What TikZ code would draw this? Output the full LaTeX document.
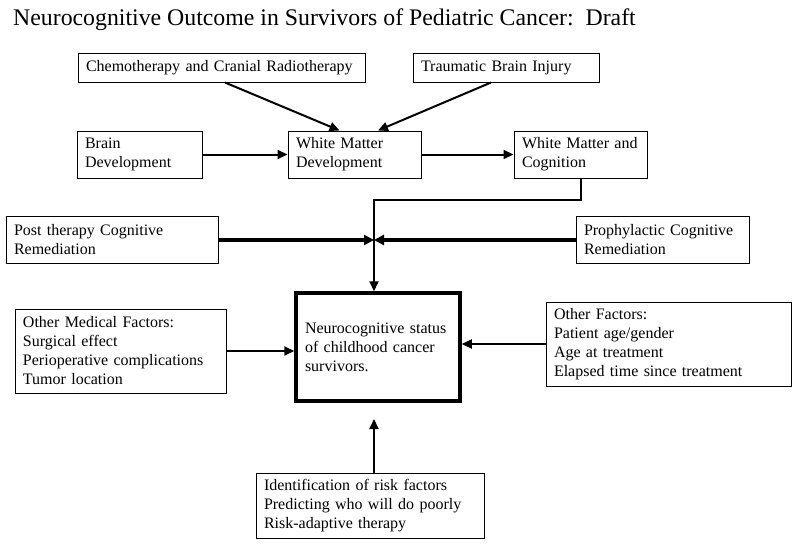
\documentclass[tikz,border=0pt]{standalone}
\usepackage{fontspec}
\setmainfont{Liberation Serif}
\usetikzlibrary{arrows.meta,calc}
\begin{document}
\begin{tikzpicture}[x=1pt,y=-1pt,
  box/.style={draw, line width=1pt, align=left, inner xsep=8pt, inner ysep=0pt,
    font=\fontsize{16}{19}\selectfont},
  arr/.style={line width=2pt, -{Triangle[length=10pt,width=9pt]}},
  thickarr/.style={line width=3.5pt, -{Triangle[length=10pt,width=10pt]}},
  link/.style={line width=2pt}]
\useasboundingbox (0,0) rectangle (793,546);
\node[anchor=base west, inner sep=0pt, font=\fontsize{23.8}{28}\selectfont] (title) at (13,25)
  {Neurocognitive Outcome in Survivors of Pediatric Cancer:\ \ Draft};

\node[box, minimum width=287pt, minimum height=29pt, text width=271pt] (chemo) at (221.5,67.5)
  {Chemotherapy and Cranial Radiotherapy};
\node[box, minimum width=186pt, minimum height=29pt, text width=170pt] (tbi) at (506,67.5)
  {Traumatic Brain Injury};
\node[box, minimum width=125pt, minimum height=47pt, text width=109pt] (brain) at (139.5,154.5)
  {Brain\\Development};
\node[box, minimum width=133pt, minimum height=47pt, text width=117pt] (wmd) at (354.5,154.5)
  {White Matter\\Development};
\node[box, minimum width=133pt, minimum height=47pt, text width=117pt] (wmc) at (580.5,154.5)
  {White Matter and\\Cognition};
\node[box, minimum width=212pt, minimum height=47pt, text width=196pt] (post) at (112,240)
  {Post therapy Cognitive\\Remediation};
\node[box, minimum width=173pt, minimum height=47pt, text width=157pt] (proph) at (662.5,240)
  {Prophylactic Cognitive\\Remediation};
\node[box, line width=3.5pt, minimum width=164pt, minimum height=108pt, text width=146pt] (main) at (378,347)
  {Neurocognitive status\\of childhood cancer\\survivors.};
\node[box, minimum width=211pt, minimum height=84pt, text width=195pt] (omf) at (120.5,351)
  {Other Medical Factors:\\Surgical effect\\Perioperative complications\\Tumor location};
\node[box, minimum width=245pt, minimum height=84pt, text width=229pt] (of) at (668.5,344)
  {Other Factors:\\Patient age/gender\\Age at treatment\\Elapsed time since treatment};
\node[box, minimum width=228pt, minimum height=65pt, text width=212pt] (ident) at (370,505.5)
  {Identification of risk factors\\Predicting who will do poorly\\Risk-adaptive therapy};

\coordinate (k) at (374,200);
\coordinate (j) at (374,240);
\coordinate (tipbot) at (374,419);

\draw[arr] ($(chemo.south)+(3.5,0)$) -- ($(wmd.north)+(-15,0)$);
\draw[arr] ($(tbi.south)+(-15,0)$) -- ($(wmd.north)+(23.5,0)$);
\draw[arr] (brain.east) -- (wmd.west);
\draw[arr] (wmd.east) -- (wmc.west);
\draw[arr] (wmc.south) |- (k) -- (k |- main.north);
\draw[thickarr] (post.east) -- (j);
\draw[thickarr] (proph.west) -- (j);
\draw[arr] (omf.east) -- (omf.east -| main.west);
\draw[arr] (of.west) -- (of.west -| main.east);
\draw[arr] (ident.north -| tipbot) -- (tipbot);
\end{tikzpicture}
\end{document}
